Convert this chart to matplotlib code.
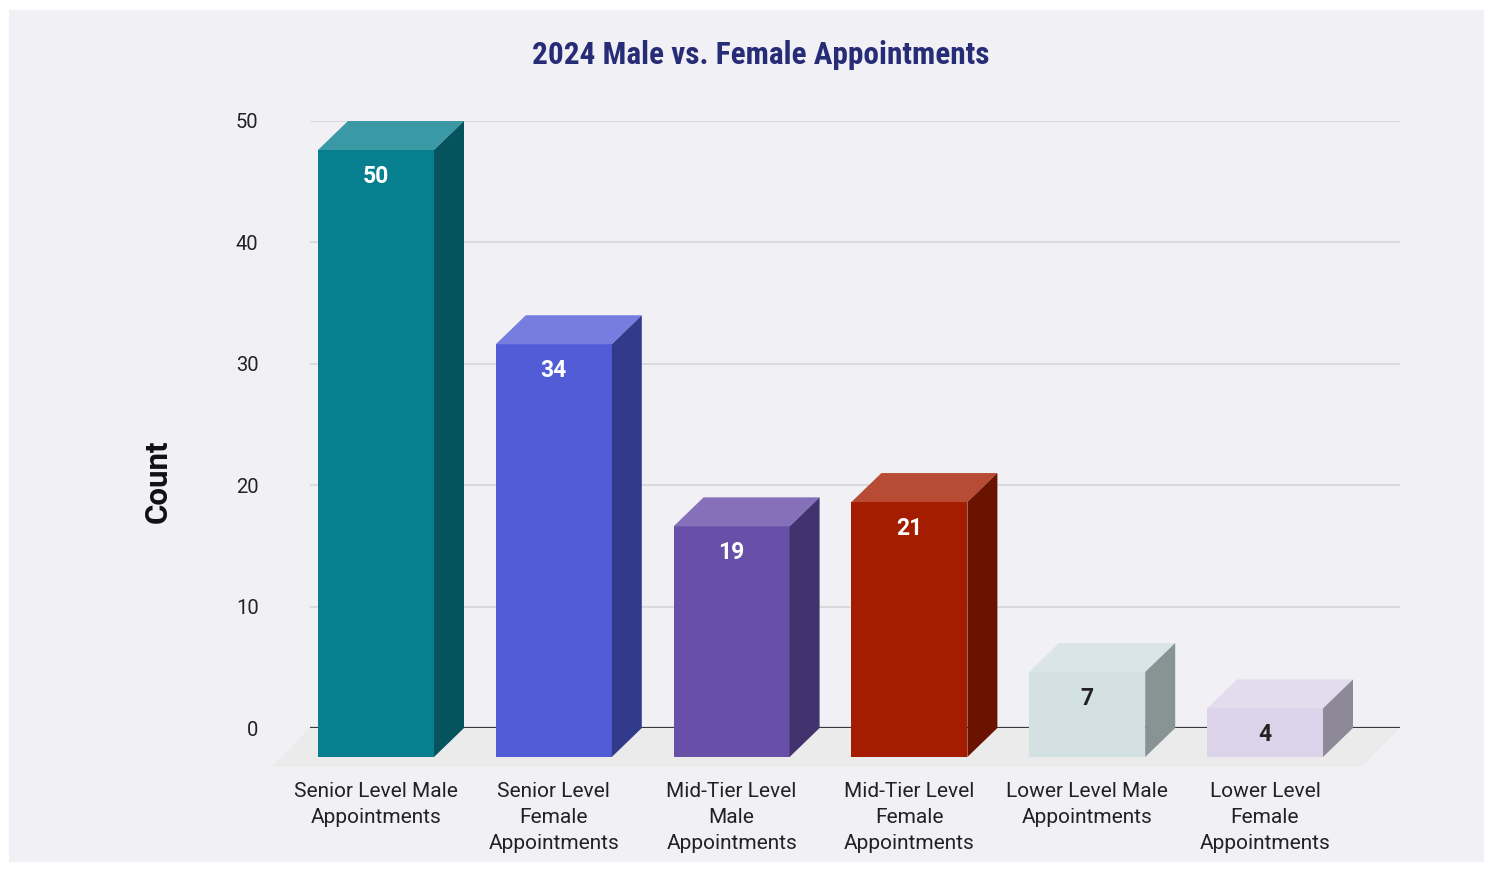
import matplotlib
matplotlib.use("Agg")
import matplotlib.pyplot as plt
from matplotlib.patches import Polygon, Rectangle
from matplotlib import font_manager

categories = ["Senior Level Male\nAppointments", "Senior Level\nFemale\nAppointments",
              "Mid-Tier Level\nMale\nAppointments", "Mid-Tier Level\nFemale\nAppointments",
              "Lower Level Male\nAppointments", "Lower Level\nFemale\nAppointments"]
values = [50, 34, 19, 21, 7, 4]
front_colors = ["#077f8f", "#515cd6", "#684fa8", "#a51d00", "#d4e1e3", "#dbd3ea"]
top_colors = ["#3b98a5", "#757ee0", "#8670b9", "#b84b34", "#d9e5e8", "#e3dcee"]
side_colors = ["#04535d", "#323a8b", "#42336e", "#6a1300", "#889394", "#8d8999"]
label_colors = ["white", "white", "white", "white", "#222222", "#222222"]
yticks = [0, 10, 20, 30, 40, 50]
title = "2024 Male vs. Female Appointments"
ylabel = "Count"

names = {f.name for f in font_manager.fontManager.ttflist}
base = "Roboto" if "Roboto" in names else "DejaVu Sans"
title_font = base
title_size = 21
for cand in ["Roboto Condensed", "Liberation Sans Narrow", "DejaVu Sans Condensed"]:
    if cand in names:
        title_font = cand
        title_size = 22.5
        break

W, H, DPI = 1493, 872, 100
fig = plt.figure(figsize=(W / DPI, H / DPI), dpi=DPI, facecolor="white")
fig.patches.append(Rectangle((9 / W, 10 / H), 1475 / W, 852 / H, transform=fig.transFigure,
                             facecolor="#f1f0f5", edgecolor="none", zorder=-10))

ax = fig.add_axes([310 / W, (H - 728) / H, 1090 / W, 607 / H])
ax.set_facecolor("none")
step = 177.8
ax.set_xlim((310 - 376) / step, (1400 - 376) / step)
ax.set_ylim(0, 50)
for s in ax.spines.values():
    s.set_visible(False)

# pixel -> data conversions from the axes scale
px_x = ax.bbox.width / (ax.get_xlim()[1] - ax.get_xlim()[0])
px_y = ax.bbox.height / (ax.get_ylim()[1] - ax.get_ylim()[0])
dxd, dyd = 30 / px_x, 29 / px_y
fdx, fdy = 38 / px_x, 39 / px_y
w = 116 / px_x

x0, x1 = ax.get_xlim()
floor = Polygon([(x0 - fdx, -fdy), (x1 - fdx, -fdy), (x1, 0), (x0, 0)], closed=True,
                facecolor="#ebebeb", edgecolor="none", clip_on=False, zorder=0)
ax.add_patch(floor)

for t in yticks[1:]:
    ax.axhline(t, color="#d6d6d6", lw=1.2, zorder=0.5)
ax.axhline(0, color="#3a3a3a", lw=1.6, zorder=0.6)

xs = list(range(len(values)))
ax.bar(xs, values, width=w, bottom=-dyd, color=front_colors, edgecolor="none",
       clip_on=False, zorder=3)
for i, v in zip(xs, values):
    l, r = i - w / 2, i + w / 2
    ax.add_patch(Polygon([(l, v - dyd), (r, v - dyd), (r + dxd, v), (l + dxd, v)],
                         closed=True, facecolor=top_colors[i], edgecolor="none",
                         clip_on=False, zorder=3))
    ax.add_patch(Polygon([(r, -dyd), (r + dxd, 0), (r + dxd, v), (r, v - dyd)],
                         closed=True, facecolor=side_colors[i], edgecolor="none",
                         clip_on=False, zorder=3))
    ax.annotate(str(v), xy=(i, v - dyd), xytext=(0, -19), textcoords="offset points",
                ha="center", va="center", fontsize=16.5, fontweight="bold",
                color=label_colors[i], family=base, zorder=5)

ax.set_yticks(yticks)
ax.set_yticklabels([str(t) for t in yticks], fontsize=14.5, color="#222222", family=base)
ax.set_xticks(xs)
ax.set_xticklabels(categories, fontsize=15, color="#222222", family=base, linespacing=1.47)
ax.tick_params(axis="y", length=0, pad=37)
ax.tick_params(axis="x", length=0, pad=39)

fig.text(158 / W, 1 - 481 / H, ylabel, rotation=90, ha="center", va="center",
         fontsize=22.5, fontweight="bold", color="#111111", family=base)
fig.text(761 / W, 1 - 55 / H, title, ha="center", va="center", fontsize=title_size,
         fontweight="bold", color="#272c77", family=title_font)

fig.savefig("out.png", dpi=DPI, facecolor="white")
